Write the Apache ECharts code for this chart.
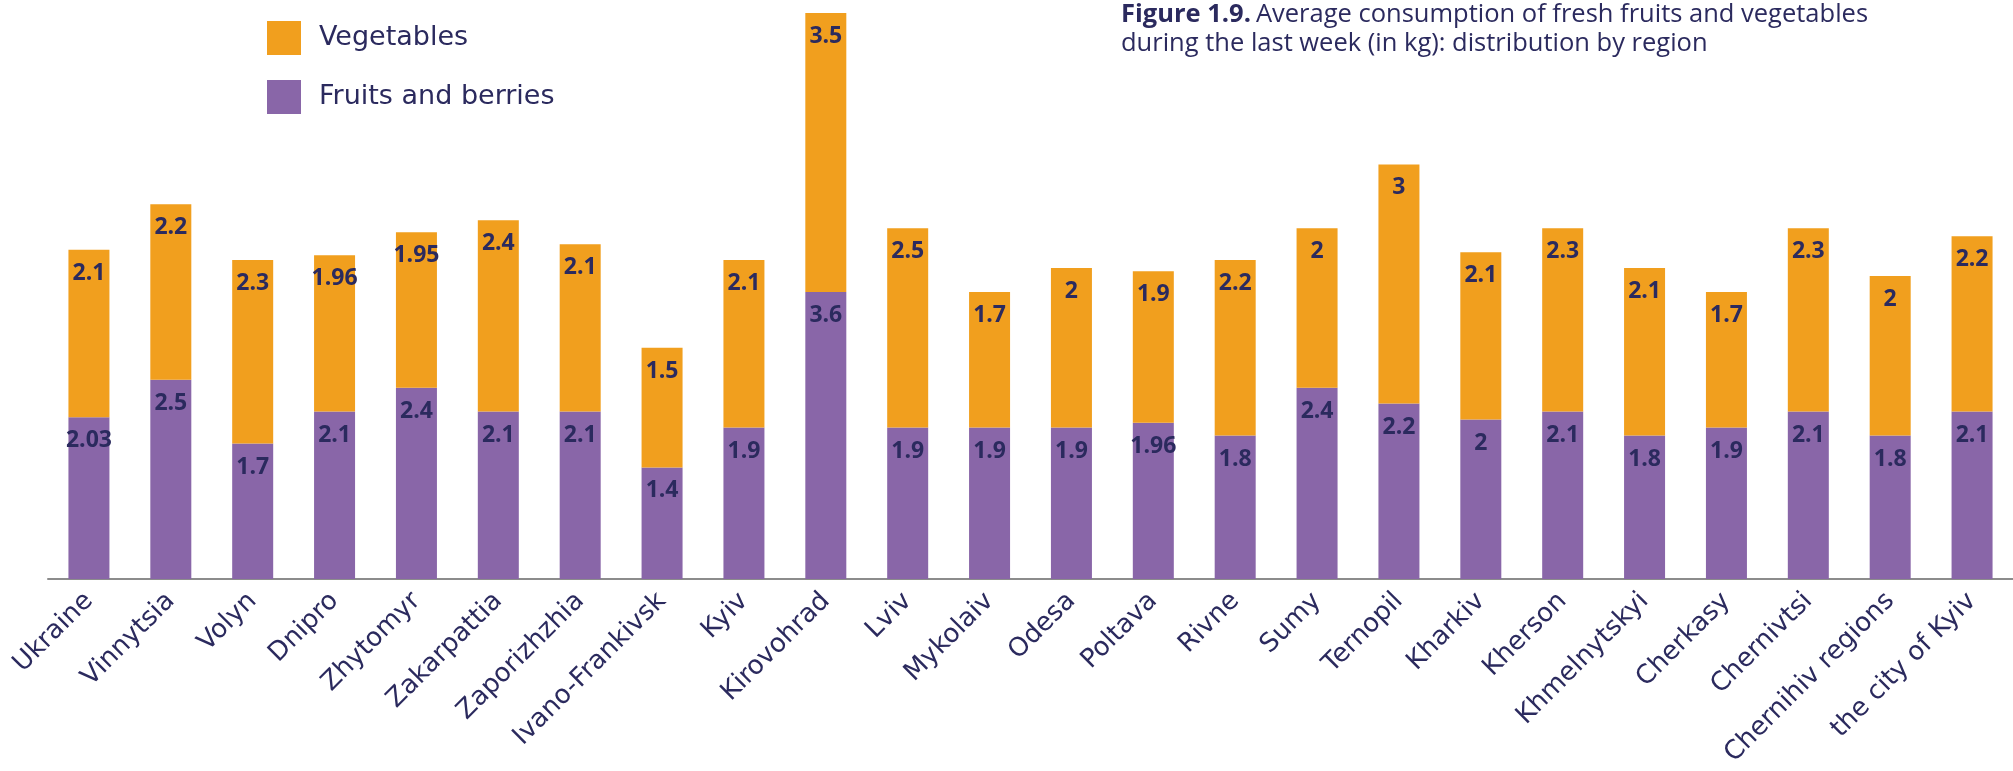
<!DOCTYPE html>
<html>
<head>
<meta charset="utf-8">
<title>Average consumption of fresh fruits and vegetables by region</title>
<script src="https://cdn.jsdelivr.net/npm/echarts@6/dist/echarts.min.js"></script>
<style>
  html, body { margin: 0; padding: 0; background: #ffffff; }
  #chart { width: 2013px; height: 771px; }
</style>
</head>
<body>
<div id="chart"></div>
<script>
// Regions shown along the x axis
const regions = [
  'Ukraine', 'Vinnytsia', 'Volyn', 'Dnipro', 'Zhytomyr', 'Zakarpattia',
  'Zaporizhzhia', 'Ivano-Frankivsk', 'Kyiv', 'Kirovohrad', 'Lviv', 'Mykolaiv',
  'Odesa', 'Poltava', 'Rivne', 'Sumy', 'Ternopil', 'Kharkiv', 'Kherson',
  'Khmelnytskyi', 'Cherkasy', 'Chernivtsi', 'Chernihiv regions', 'the city of Kyiv'
];

// Average weekly consumption, kg
const fruitsAndBerries = [
  2.03, 2.5, 1.7, 2.1, 2.4, 2.1, 2.1, 1.4, 1.9, 3.6, 1.9, 1.9,
  1.9, 1.96, 1.8, 2.4, 2.2, 2, 2.1, 1.8, 1.9, 2.1, 1.8, 2.1
];
const vegetables = [
  2.1, 2.2, 2.3, 1.96, 1.95, 2.4, 2.1, 1.5, 2.1, 3.5, 2.5, 1.7,
  2, 1.9, 2.2, 2, 3, 2.1, 2.3, 2.1, 1.7, 2.3, 2, 2.2
];

const seriesNames = ['Fruits and berries', 'Vegetables'];

const INK = '#2b2a5e';
const ORANGE = '#f19f1e';
const PURPLE = '#8966a8';

const chart = echarts.init(document.getElementById('chart'), null, { renderer: 'canvas' });

const valueLabel = {
  show: true,
  position: 'insideTop',
  distance: 12,
  color: INK,
  fontFamily: 'Open Sans',
  fontWeight: 'bold',
  fontSize: 23
};

chart.setOption({
  animation: false,
  backgroundColor: '#ffffff',
  title: {
    left: 1121,
    top: 0,
    padding: 0,
    text: '{b|Figure 1.9.} {n|Average consumption of fresh fruits and vegetables}\n{n|during the last week (in kg): distribution by region}',
    textStyle: {
      rich: {
        b: { fontFamily: 'Open Sans', fontWeight: 'bold', fontSize: 25.5, color: INK, lineHeight: 29 },
        n: { fontFamily: 'Open Sans', fontWeight: 'normal', fontSize: 25.5, color: INK, lineHeight: 29 }
      }
    }
  },
  legend: {
    data: ['Vegetables', 'Fruits and berries'],
    orient: 'vertical',
    left: 267,
    top: 21,
    padding: 0,
    icon: 'rect',
    itemWidth: 34,
    itemHeight: 34,
    itemGap: 25,
    textStyle: {
      fontFamily: 'DejaVu Sans',
      fontSize: 27,
      color: INK,
      padding: [0, 0, 0, 13]
    }
  },
  grid: {
    left: 48,
    width: 1966,
    top: 5,
    bottom: 192,
    containLabel: false
  },
  xAxis: {
    type: 'category',
    data: regions,
    axisLine: { show: true, lineStyle: { color: '#8c8c8c', width: 2 } },
    axisTick: { show: false },
    axisLabel: {
      interval: 0,
      rotate: 45,
      margin: 18,
      fontFamily: 'DejaVu Sans',
      fontSize: 26,
      color: INK
    }
  },
  yAxis: {
    type: 'value',
    min: 0,
    max: 7.2,
    show: false,
    splitLine: { show: false }
  },
  series: [
    {
      name: seriesNames[0],
      type: 'bar',
      stack: 'total',
      barWidth: 41,
      data: fruitsAndBerries,
      itemStyle: { color: PURPLE },
      label: valueLabel
    },
    {
      name: seriesNames[1],
      type: 'bar',
      stack: 'total',
      barWidth: 41,
      data: vegetables,
      itemStyle: { color: ORANGE },
      label: valueLabel
    }
  ]
});
</script>
</body>
</html>
